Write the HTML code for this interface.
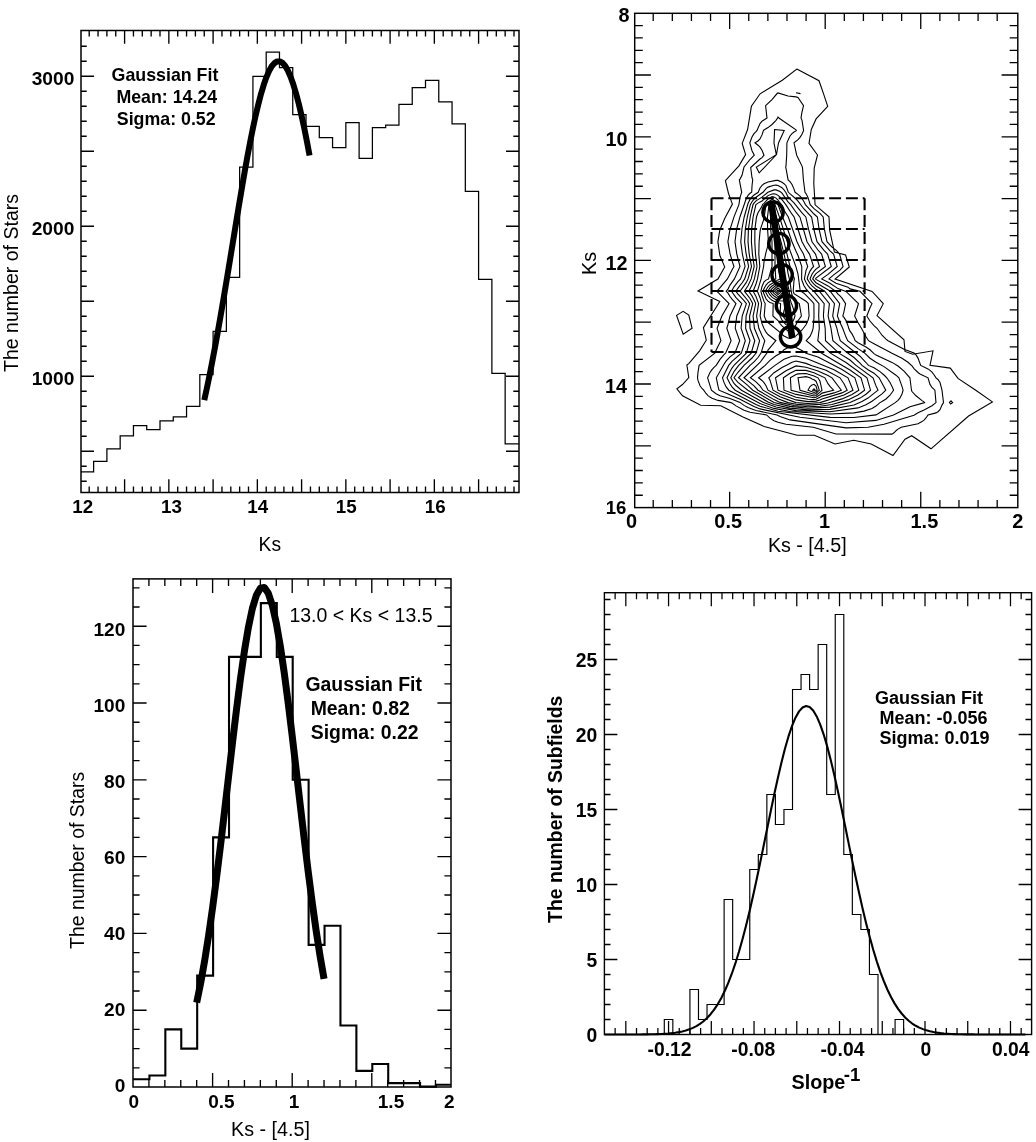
<!DOCTYPE html>
<html><head><meta charset="utf-8"><title>figure</title>
<style>html,body{margin:0;padding:0;background:#fff}svg{display:block;will-change:transform}text{font-family:"Liberation Sans",sans-serif;fill:#000}</style></head>
<body><svg width="1036" height="1142" viewBox="0 0 1036 1142"><rect width="1036" height="1142" fill="#fff"/><rect x="81" y="30.5" width="438" height="462" fill="none" stroke="#000" stroke-width="1.5"/><path d="M89.2 492.5L89.2 486.5M89.2 30.5L89.2 36.5M98.05 492.5L98.05 486.5M98.05 30.5L98.05 36.5M106.9 492.5L106.9 486.5M106.9 30.5L106.9 36.5M115.75 492.5L115.75 486.5M115.75 30.5L115.75 36.5M124.6 492.5L124.6 486.5M124.6 30.5L124.6 36.5M133.45 492.5L133.45 486.5M133.45 30.5L133.45 36.5M142.3 492.5L142.3 486.5M142.3 30.5L142.3 36.5M151.15 492.5L151.15 486.5M151.15 30.5L151.15 36.5M160 492.5L160 486.5M160 30.5L160 36.5M168.85 492.5L168.85 486.5M168.85 30.5L168.85 36.5M177.7 492.5L177.7 486.5M177.7 30.5L177.7 36.5M186.55 492.5L186.55 486.5M186.55 30.5L186.55 36.5M195.4 492.5L195.4 486.5M195.4 30.5L195.4 36.5M204.25 492.5L204.25 486.5M204.25 30.5L204.25 36.5M213.1 492.5L213.1 486.5M213.1 30.5L213.1 36.5M221.95 492.5L221.95 486.5M221.95 30.5L221.95 36.5M230.8 492.5L230.8 486.5M230.8 30.5L230.8 36.5M239.65 492.5L239.65 486.5M239.65 30.5L239.65 36.5M248.5 492.5L248.5 486.5M248.5 30.5L248.5 36.5M257.35 492.5L257.35 486.5M257.35 30.5L257.35 36.5M266.2 492.5L266.2 486.5M266.2 30.5L266.2 36.5M275.05 492.5L275.05 486.5M275.05 30.5L275.05 36.5M283.9 492.5L283.9 486.5M283.9 30.5L283.9 36.5M292.75 492.5L292.75 486.5M292.75 30.5L292.75 36.5M301.6 492.5L301.6 486.5M301.6 30.5L301.6 36.5M310.45 492.5L310.45 486.5M310.45 30.5L310.45 36.5M319.3 492.5L319.3 486.5M319.3 30.5L319.3 36.5M328.15 492.5L328.15 486.5M328.15 30.5L328.15 36.5M337 492.5L337 486.5M337 30.5L337 36.5M345.85 492.5L345.85 486.5M345.85 30.5L345.85 36.5M354.7 492.5L354.7 486.5M354.7 30.5L354.7 36.5M363.55 492.5L363.55 486.5M363.55 30.5L363.55 36.5M372.4 492.5L372.4 486.5M372.4 30.5L372.4 36.5M381.25 492.5L381.25 486.5M381.25 30.5L381.25 36.5M390.1 492.5L390.1 486.5M390.1 30.5L390.1 36.5M398.95 492.5L398.95 486.5M398.95 30.5L398.95 36.5M407.8 492.5L407.8 486.5M407.8 30.5L407.8 36.5M416.65 492.5L416.65 486.5M416.65 30.5L416.65 36.5M425.5 492.5L425.5 486.5M425.5 30.5L425.5 36.5M434.35 492.5L434.35 486.5M434.35 30.5L434.35 36.5M443.2 492.5L443.2 486.5M443.2 30.5L443.2 36.5M452.05 492.5L452.05 486.5M452.05 30.5L452.05 36.5M460.9 492.5L460.9 486.5M460.9 30.5L460.9 36.5M469.75 492.5L469.75 486.5M469.75 30.5L469.75 36.5M478.6 492.5L478.6 486.5M478.6 30.5L478.6 36.5M487.45 492.5L487.45 486.5M487.45 30.5L487.45 36.5M496.3 492.5L496.3 486.5M496.3 30.5L496.3 36.5M505.15 492.5L505.15 486.5M505.15 30.5L505.15 36.5M514 492.5L514 486.5M514 30.5L514 36.5M124.6 492.5L124.6 479.3M124.6 30.5L124.6 43.7M168.85 492.5L168.85 479.3M168.85 30.5L168.85 43.7M213.1 492.5L213.1 479.3M213.1 30.5L213.1 43.7M257.35 492.5L257.35 479.3M257.35 30.5L257.35 43.7M301.6 492.5L301.6 479.3M301.6 30.5L301.6 43.7M345.85 492.5L345.85 479.3M345.85 30.5L345.85 43.7M390.1 492.5L390.1 479.3M390.1 30.5L390.1 43.7M434.35 492.5L434.35 479.3M434.35 30.5L434.35 43.7M478.6 492.5L478.6 479.3M478.6 30.5L478.6 43.7M81 481.2L86.7 481.2M519 481.2L513.3 481.2M81 466.2L86.7 466.2M519 466.2L513.3 466.2M81 451.2L86.7 451.2M519 451.2L513.3 451.2M81 436.2L86.7 436.2M519 436.2L513.3 436.2M81 421.2L86.7 421.2M519 421.2L513.3 421.2M81 406.2L86.7 406.2M519 406.2L513.3 406.2M81 391.2L86.7 391.2M519 391.2L513.3 391.2M81 376.2L86.7 376.2M519 376.2L513.3 376.2M81 361.2L86.7 361.2M519 361.2L513.3 361.2M81 346.2L86.7 346.2M519 346.2L513.3 346.2M81 331.2L86.7 331.2M519 331.2L513.3 331.2M81 316.2L86.7 316.2M519 316.2L513.3 316.2M81 301.2L86.7 301.2M519 301.2L513.3 301.2M81 286.2L86.7 286.2M519 286.2L513.3 286.2M81 271.2L86.7 271.2M519 271.2L513.3 271.2M81 256.2L86.7 256.2M519 256.2L513.3 256.2M81 241.2L86.7 241.2M519 241.2L513.3 241.2M81 226.2L86.7 226.2M519 226.2L513.3 226.2M81 211.2L86.7 211.2M519 211.2L513.3 211.2M81 196.2L86.7 196.2M519 196.2L513.3 196.2M81 181.2L86.7 181.2M519 181.2L513.3 181.2M81 166.2L86.7 166.2M519 166.2L513.3 166.2M81 151.2L86.7 151.2M519 151.2L513.3 151.2M81 136.2L86.7 136.2M519 136.2L513.3 136.2M81 121.2L86.7 121.2M519 121.2L513.3 121.2M81 106.2L86.7 106.2M519 106.2L513.3 106.2M81 91.2L86.7 91.2M519 91.2L513.3 91.2M81 76.2L86.7 76.2M519 76.2L513.3 76.2M81 61.2L86.7 61.2M519 61.2L513.3 61.2M81 46.2L86.7 46.2M519 46.2L513.3 46.2M81 451.2L94 451.2M519 451.2L506 451.2M81 376.2L94 376.2M519 376.2L506 376.2M81 301.2L94 301.2M519 301.2L506 301.2M81 226.2L94 226.2M519 226.2L506 226.2M81 151.2L94 151.2M519 151.2L506 151.2M81 76.2L94 76.2M519 76.2L506 76.2" fill="none" stroke="#000" stroke-width="1.35"/><path d="M81 471.75L93.62 471.75L93.62 461.25L106.9 461.25L106.9 448.75L120.17 448.75L120.17 435.75L133.45 435.75L133.45 425.5L146.72 425.5L146.72 429.5L160 429.5L160 420.75L173.27 420.75L173.27 416.75L186.55 416.75L186.55 406.25L199.82 406.25L199.82 374.5L213.1 374.5L213.1 331.25L226.38 331.25L226.38 277.25L239.65 277.25L239.65 167L252.93 167L252.93 76.25L266.2 76.25L266.2 52L279.48 52L279.48 67.5L292.75 67.5L292.75 114.5L306.02 114.5L306.02 126.25L319.3 126.25L319.3 137.5L332.57 137.5L332.57 147.5L345.85 147.5L345.85 122.5L359.12 122.5L359.12 158.25L372.4 158.25L372.4 127.5L385.67 127.5L385.67 125L398.95 125L398.95 104.25L412.23 104.25L412.23 87.5L425.5 87.5L425.5 80.25L438.77 80.25L438.77 101.75L452.05 101.75L452.05 123.75L465.33 123.75L465.33 191.25L478.6 191.25L478.6 279.25L491.88 279.25L491.88 373.25L505.15 373.25L505.15 443.75L519 443.75" fill="none" stroke="#000" stroke-width="1.25" stroke-linejoin="miter"/><path d="M204.25 400.07L206.95 387.77L209.65 374.79L212.35 361.16L215.05 346.93L217.75 332.13L220.45 316.84L223.15 301.12L225.85 285.05L228.55 268.72L231.25 252.23L233.95 235.68L236.65 219.2L239.36 202.89L242.06 186.89L244.76 171.32L247.46 156.32L250.16 142L252.86 128.5L255.56 115.94L258.26 104.44L260.96 94.11L263.66 85.04L266.36 77.34L269.06 71.07L271.76 66.29L274.46 63.07L277.16 61.42L279.86 61.38L282.56 62.93L285.26 66.06L287.96 70.74L290.66 76.93L293.36 84.55L296.06 93.54L298.76 103.8L301.46 115.23L304.16 127.73L306.86 141.18L309.56 155.45" fill="none" stroke="#000" stroke-width="6" stroke-linejoin="round"/><text x="82.7" y="513" font-size="18.8" font-weight="bold" text-anchor="middle">12</text><text x="171.5" y="513" font-size="18.8" font-weight="bold" text-anchor="middle">13</text><text x="257.7" y="513" font-size="18.8" font-weight="bold" text-anchor="middle">14</text><text x="346.3" y="513" font-size="18.8" font-weight="bold" text-anchor="middle">15</text><text x="435.3" y="513" font-size="18.8" font-weight="bold" text-anchor="middle">16</text><text x="74.4" y="385" font-size="19.2" font-weight="bold" text-anchor="end">1000</text><text x="74.4" y="235" font-size="19.2" font-weight="bold" text-anchor="end">2000</text><text x="74.4" y="85" font-size="19.2" font-weight="bold" text-anchor="end">3000</text><text transform="translate(18.2 283) rotate(-90)" font-size="19.55" text-anchor="middle">The number of Stars</text><text x="258.6" y="551.1" font-size="19.3">Ks</text><text x="111.6" y="81.4" font-size="17.8" font-weight="bold">Gaussian Fit</text><text x="116.4" y="103.1" font-size="17.8" font-weight="bold">Mean: 14.24</text><text x="116.8" y="124.6" font-size="17.8" font-weight="bold">Sigma: 0.52</text><rect x="634.7" y="13.3" width="383.1" height="494.3" fill="none" stroke="#000" stroke-width="1.45"/><path d="M653.21 507.6L653.21 500M653.21 13.3L653.21 20.9M672.32 507.6L672.32 500M672.32 13.3L672.32 20.9M691.43 507.6L691.43 500M691.43 13.3L691.43 20.9M710.54 507.6L710.54 500M710.54 13.3L710.54 20.9M729.65 507.6L729.65 500M729.65 13.3L729.65 20.9M748.76 507.6L748.76 500M748.76 13.3L748.76 20.9M767.87 507.6L767.87 500M767.87 13.3L767.87 20.9M786.98 507.6L786.98 500M786.98 13.3L786.98 20.9M806.09 507.6L806.09 500M806.09 13.3L806.09 20.9M825.2 507.6L825.2 500M825.2 13.3L825.2 20.9M844.31 507.6L844.31 500M844.31 13.3L844.31 20.9M863.42 507.6L863.42 500M863.42 13.3L863.42 20.9M882.53 507.6L882.53 500M882.53 13.3L882.53 20.9M901.64 507.6L901.64 500M901.64 13.3L901.64 20.9M920.75 507.6L920.75 500M920.75 13.3L920.75 20.9M939.86 507.6L939.86 500M939.86 13.3L939.86 20.9M958.97 507.6L958.97 500M958.97 13.3L958.97 20.9M978.08 507.6L978.08 500M978.08 13.3L978.08 20.9M997.19 507.6L997.19 500M997.19 13.3L997.19 20.9M729.65 507.6L729.65 491.8M729.65 13.3L729.65 29.1M825.2 507.6L825.2 491.8M825.2 13.3L825.2 29.1M920.75 507.6L920.75 491.8M920.75 13.3L920.75 29.1M634.7 25.56L642.8 25.56M1017.8 25.56L1009.7 25.56M634.7 37.92L642.8 37.92M1017.8 37.92L1009.7 37.92M634.7 50.28L642.8 50.28M1017.8 50.28L1009.7 50.28M634.7 62.64L642.8 62.64M1017.8 62.64L1009.7 62.64M634.7 75L642.8 75M1017.8 75L1009.7 75M634.7 87.36L642.8 87.36M1017.8 87.36L1009.7 87.36M634.7 99.72L642.8 99.72M1017.8 99.72L1009.7 99.72M634.7 112.08L642.8 112.08M1017.8 112.08L1009.7 112.08M634.7 124.44L642.8 124.44M1017.8 124.44L1009.7 124.44M634.7 136.8L642.8 136.8M1017.8 136.8L1009.7 136.8M634.7 149.16L642.8 149.16M1017.8 149.16L1009.7 149.16M634.7 161.52L642.8 161.52M1017.8 161.52L1009.7 161.52M634.7 173.88L642.8 173.88M1017.8 173.88L1009.7 173.88M634.7 186.24L642.8 186.24M1017.8 186.24L1009.7 186.24M634.7 198.6L642.8 198.6M1017.8 198.6L1009.7 198.6M634.7 210.96L642.8 210.96M1017.8 210.96L1009.7 210.96M634.7 223.32L642.8 223.32M1017.8 223.32L1009.7 223.32M634.7 235.68L642.8 235.68M1017.8 235.68L1009.7 235.68M634.7 248.04L642.8 248.04M1017.8 248.04L1009.7 248.04M634.7 260.4L642.8 260.4M1017.8 260.4L1009.7 260.4M634.7 272.76L642.8 272.76M1017.8 272.76L1009.7 272.76M634.7 285.12L642.8 285.12M1017.8 285.12L1009.7 285.12M634.7 297.48L642.8 297.48M1017.8 297.48L1009.7 297.48M634.7 309.84L642.8 309.84M1017.8 309.84L1009.7 309.84M634.7 322.2L642.8 322.2M1017.8 322.2L1009.7 322.2M634.7 334.56L642.8 334.56M1017.8 334.56L1009.7 334.56M634.7 346.92L642.8 346.92M1017.8 346.92L1009.7 346.92M634.7 359.28L642.8 359.28M1017.8 359.28L1009.7 359.28M634.7 371.64L642.8 371.64M1017.8 371.64L1009.7 371.64M634.7 384L642.8 384M1017.8 384L1009.7 384M634.7 396.36L642.8 396.36M1017.8 396.36L1009.7 396.36M634.7 408.72L642.8 408.72M1017.8 408.72L1009.7 408.72M634.7 421.08L642.8 421.08M1017.8 421.08L1009.7 421.08M634.7 433.44L642.8 433.44M1017.8 433.44L1009.7 433.44M634.7 445.8L642.8 445.8M1017.8 445.8L1009.7 445.8M634.7 458.16L642.8 458.16M1017.8 458.16L1009.7 458.16M634.7 470.52L642.8 470.52M1017.8 470.52L1009.7 470.52M634.7 482.88L642.8 482.88M1017.8 482.88L1009.7 482.88M634.7 495.24L642.8 495.24M1017.8 495.24L1009.7 495.24M634.7 75L650.9 75M1017.8 75L1001.6 75M634.7 136.8L650.9 136.8M1017.8 136.8L1001.6 136.8M634.7 198.6L650.9 198.6M1017.8 198.6L1001.6 198.6M634.7 260.4L650.9 260.4M1017.8 260.4L1001.6 260.4M634.7 322.2L650.9 322.2M1017.8 322.2L1001.6 322.2M634.7 384L650.9 384M1017.8 384L1001.6 384M634.7 445.8L650.9 445.8M1017.8 445.8L1001.6 445.8" fill="none" stroke="#000" stroke-width="1.3"/><path d="M777.3 93.3L778.0 92.9L788.0 96.0L796.0 96.9L798.0 97.5L803.5 105.7L802.0 112.0L801.0 118.0L802.0 120.3L803.6 130.4L802.0 134.2L800.0 137.4L798.0 139.7L794.0 142.8L796.7 155.2L802.0 166.1L802.5 167.5L803.4 179.9L805.0 192.3L806.0 193.6L808.0 197.4L810.2 204.6L814.0 208.7L820.0 213.3L823.2 217.0L824.4 229.4L827.0 241.7L832.0 247.2L836.0 250.1L838.0 252.1L839.6 254.1L843.1 266.5L840.0 270.1L834.0 274.6L829.0 278.9L836.0 283.2L848.0 287.2L850.0 288.9L860.0 291.3L872.0 303.7L870.0 307.7L866.8 316.0L870.0 321.0L874.0 325.6L877.0 328.3L882.0 335.2L886.0 339.2L888.0 340.8L904.0 349.2L914.0 353.1L916.0 354.9L918.0 358.1L920.7 365.4L928.0 368.9L930.0 370.4L932.0 372.2L934.0 374.7L936.0 377.9L938.0 379.5L940.0 382.5L942.0 390.2L943.5 402.6L942.0 405.1L940.0 409.6L938.0 411.7L936.0 412.9L928.0 414.9L926.0 418.0L924.0 420.1L922.0 421.6L918.0 423.7L901.2 427.3L898.0 429.1L896.0 430.7L894.0 432.8L892.0 434.1L836.0 434.0L813.3 427.3L786.0 424.2L778.0 422.3L774.0 420.7L770.0 418.1L766.6 414.9L750.0 412.2L744.0 410.3L736.0 405.9L732.0 403.0L730.0 402.4L718.0 400.4L712.0 398.2L710.0 397.1L708.0 395.6L706.0 393.5L703.7 390.2L702.0 388.5L700.0 385.7L698.0 380.4L697.5 377.8L698.0 372.4L699.1 365.4L714.8 353.1L718.0 346.2L720.9 340.7L717.1 328.3L722.0 315.7L729.1 303.6L718.0 292.3L716.7 291.2L718.0 290.0L727.4 278.9L732.0 269.9L734.0 266.5L732.0 260.7L730.0 253.4L727.9 241.7L730.0 229.4L734.0 216.9L738.9 204.6L740.0 197.3L741.7 192.3L739.3 179.9L740.0 179.1L742.0 175.3L744.0 167.0L750.0 159.5L754.3 155.2L752.0 150.7L749.8 142.8L752.0 137.0L754.0 133.7L756.0 131.7L757.0 130.4L760.0 123.6L762.0 121.2L767.0 118.0L765.6 105.7L772.0 99.6ZM777.6 118.0L778.0 117.0L778.9 118.0L796.0 129.8L796.4 130.4L796.0 130.9L794.0 132.0L792.0 133.6L790.0 136.0L786.9 142.8L786.7 155.2L786.0 165.7L785.7 167.5L786.0 168.3L788.1 179.9L790.0 181.7L792.0 184.5L794.0 189.1L795.1 192.3L798.0 194.4L800.0 196.2L802.0 198.5L804.0 201.7L805.4 204.6L814.0 214.0L817.4 217.0L819.1 229.4L822.0 241.7L830.0 250.8L833.6 254.1L837.2 266.5L828.0 274.4L821.7 278.9L830.0 283.3L838.0 288.6L846.0 291.4L858.5 303.6L854.6 316.0L858.0 322.6L862.0 329.2L866.0 336.8L868.5 340.7L874.0 343.7L892.0 353.3L902.0 358.2L908.0 362.3L912.0 365.9L914.0 368.6L918.0 372.5L920.0 373.9L928.0 377.8L930.0 384.4L932.0 387.5L934.9 390.2L936.0 402.6L932.0 405.7L924.0 409.9L918.0 412.8L914.0 415.2L884.0 424.3L868.0 427.3L846.0 427.9L790.0 419.9L780.0 416.4L777.1 414.9L756.0 410.5L748.0 407.6L744.0 405.4L740.0 402.4L730.0 398.5L720.0 395.8L716.0 393.8L711.4 390.2L707.6 377.8L710.0 372.5L712.0 369.6L714.0 367.4L716.2 365.4L720.0 359.4L724.0 354.6L725.6 353.1L731.1 340.7L726.8 328.3L728.0 324.3L730.0 316.0L736.0 303.6L732.0 299.2L730.0 296.5L728.0 293.1L726.2 291.2L728.0 289.1L730.0 285.1L734.4 278.9L740.0 266.5L736.8 254.1L735.0 241.7L736.6 229.4L740.0 216.7L746.0 199.2L748.0 195.4L750.0 193.3L751.7 192.3L752.0 186.0L752.7 179.9L752.0 177.7L750.7 167.5L760.0 159.0L762.0 157.6L764.0 155.2L762.0 150.2L760.0 147.2L758.0 145.2L755.0 142.8L758.0 141.0L760.0 139.0L762.0 134.9L763.5 130.4L764.0 129.9L768.0 127.6L772.0 124.5L776.0 120.3ZM758.2 192.3L760.0 188.0L762.0 185.4L764.0 183.8L768.0 182.0L776.0 180.4L778.0 180.4L782.0 182.3L784.0 183.7L786.0 185.7L788.3 192.3L796.0 199.0L798.0 201.2L804.0 209.0L811.6 217.0L814.0 229.9L817.0 241.7L824.0 250.4L827.6 254.1L831.3 266.5L816.0 278.1L815.5 278.9L816.0 279.4L828.0 285.9L835.6 291.2L838.0 294.2L840.0 295.9L842.0 298.2L845.6 303.6L844.0 311.6L842.8 316.0L844.0 317.4L846.0 320.6L848.0 325.7L848.7 328.3L850.0 331.2L852.0 333.9L854.0 337.7L855.2 340.7L858.0 342.8L866.0 347.0L870.0 349.8L874.0 353.6L876.0 355.1L892.0 362.4L898.0 366.0L904.0 371.2L909.9 377.8L911.5 390.2L912.0 391.5L916.0 395.8L922.0 400.6L924.0 401.9L924.6 402.6L910.0 406.7L893.5 414.9L876.0 420.4L846.0 422.7L800.0 417.2L760.0 408.9L754.0 406.6L740.0 399.2L728.0 393.9L719.0 390.2L718.0 386.2L716.3 377.8L724.0 364.2L726.0 361.2L730.0 356.8L734.9 353.1L739.7 340.7L735.2 328.3L736.8 316.0L741.8 303.6L736.0 297.6L731.5 291.2L734.0 286.8L738.0 281.6L740.5 278.9L742.0 275.1L745.1 266.5L742.4 254.1L740.8 241.7L742.0 228.5L744.2 217.0L748.0 203.5L750.0 199.4L752.0 196.9L754.0 195.0ZM763.0 192.3L766.0 188.6L768.0 187.1L774.0 185.3L776.0 185.1L778.0 185.5L782.0 187.7L784.0 189.8L786.0 192.8L788.0 197.0L794.0 202.8L802.0 212.9L805.8 217.0L808.6 229.4L812.0 241.7L818.0 250.0L821.6 254.1L825.4 266.5L816.0 273.6L814.0 276.4L812.7 278.9L816.0 282.7L828.0 289.8L830.1 291.2L839.7 303.6L837.4 316.0L840.0 322.6L842.7 328.3L846.0 337.1L847.7 340.7L858.0 348.6L864.7 353.1L870.0 358.2L876.0 362.3L884.0 366.6L896.0 375.2L898.9 377.8L902.0 386.4L903.1 390.2L902.0 394.0L900.0 397.9L898.0 400.3L895.2 402.6L878.0 413.8L876.0 414.9L854.0 417.5L830.0 417.4L778.0 411.3L760.0 406.2L756.0 404.5L728.8 390.2L726.0 386.7L724.0 382.4L722.5 377.8L728.7 365.4L732.0 361.4L741.3 353.1L745.3 340.7L741.1 328.3L742.2 316.0L746.4 303.6L744.0 300.7L738.0 294.1L735.8 291.2L740.0 285.4L742.0 283.0L744.7 278.9L748.6 266.5L746.0 253.1L744.6 241.7L745.3 229.4L747.3 217.0L750.3 204.6L752.0 201.7L754.0 199.1L756.0 197.2ZM767.9 192.3L774.0 189.9L776.0 189.9L780.0 191.6L782.0 193.1L788.0 201.9L790.7 204.6L796.0 212.2L800.0 217.2L807.0 241.7L812.0 249.5L815.5 254.1L819.5 266.5L816.0 269.1L814.0 271.3L812.0 274.3L810.0 279.0L812.0 281.9L814.0 284.1L816.0 286.0L824.7 291.2L834.5 303.6L832.7 316.0L836.9 328.3L838.0 333.1L840.3 340.7L860.0 356.2L866.0 362.5L868.5 365.4L874.0 367.8L880.0 371.6L884.0 375.0L886.8 377.8L890.0 382.5L892.0 386.4L893.6 390.2L890.0 395.2L886.0 399.0L882.0 401.5L880.0 402.6L876.0 406.1L872.0 408.4L864.0 411.1L854.0 412.9L830.0 414.0L790.0 411.5L774.0 408.4L760.0 403.6L735.2 390.2L732.0 386.8L730.0 383.7L727.0 377.8L730.0 371.6L732.0 368.1L734.0 365.3L746.3 353.1L750.0 340.6L745.6 328.3L746.1 316.0L749.7 303.6L748.0 300.7L740.1 291.2L746.0 282.9L748.1 278.9L751.5 266.5L749.2 254.1L748.0 241.7L748.4 229.4L750.2 217.0L753.0 204.6L754.0 203.2L756.0 200.9L762.0 197.1ZM755.9 204.6L758.0 203.1L762.0 201.1L768.0 195.6L772.0 194.0L774.0 193.8L776.0 194.2L778.0 195.4L780.0 197.1L786.0 204.9L792.0 214.2L794.1 217.0L802.0 241.7L806.0 248.9L809.5 254.1L813.6 266.5L812.0 268.1L810.0 271.1L808.0 275.8L807.2 278.9L810.0 283.5L812.0 285.9L816.0 289.3L819.3 291.2L829.4 303.6L828.1 316.0L831.0 328.3L832.9 340.7L848.0 353.3L854.0 357.5L860.0 363.1L862.0 365.4L868.0 369.7L874.0 373.2L879.1 377.8L885.8 390.2L882.0 393.9L872.0 401.3L866.0 404.8L858.0 407.9L830.0 411.7L796.0 410.6L776.0 407.0L763.5 402.6L741.5 390.2L736.0 385.5L734.0 383.5L730.8 377.8L734.0 371.6L738.7 365.4L751.2 353.1L754.8 340.7L750.0 328.3L749.6 316.0L752.7 303.6L750.0 298.5L744.4 291.2L748.0 285.7L751.2 278.9L754.2 266.5L752.4 254.1L751.4 241.7L751.6 229.4L753.1 217.0ZM762.5 204.6L764.0 203.3L768.0 199.0L772.0 196.7L774.0 197.1L776.0 198.1L778.0 200.0L781.2 204.6L784.0 210.2L788.3 217.0L797.0 241.7L800.0 248.0L803.5 254.1L807.7 266.5L806.0 270.6L804.4 278.9L806.0 282.5L808.0 285.7L810.0 288.0L814.0 291.4L824.2 303.6L823.4 316.0L825.2 328.3L825.5 340.7L839.0 353.1L850.0 360.0L856.0 365.4L873.0 377.8L876.0 385.9L878.0 390.2L868.0 398.1L862.0 401.6L854.0 405.0L830.0 409.4L808.0 409.9L790.0 408.1L774.0 404.5L768.0 402.0L747.8 390.2L738.0 382.4L734.0 377.8L738.0 372.3L744.0 365.4L752.0 358.0L756.1 353.1L759.6 340.7L754.4 328.3L753.1 316.0L755.7 303.6L754.0 299.7L752.0 295.9L748.8 291.2L752.0 285.1L754.4 278.9L757.0 266.5L755.5 254.1L754.8 241.7L754.9 229.4L756.5 217.0L758.0 212.8L762.0 206.3ZM766.0 204.6L768.0 202.4L772.0 199.3L774.0 200.3L776.0 202.0L778.0 204.6L782.0 215.5L788.0 230.3L792.0 241.7L796.0 251.2L798.0 255.5L801.8 266.5L801.6 278.9L802.0 280.5L804.0 285.7L806.0 288.8L819.0 303.6L818.7 316.0L819.3 328.3L817.8 340.7L830.4 353.1L846.0 362.5L867.0 377.8L870.5 390.2L866.0 394.2L860.0 398.1L850.0 402.6L830.0 407.1L808.0 408.3L790.0 406.4L774.0 402.5L752.8 390.2L748.0 385.6L738.5 377.8L750.0 365.4L754.0 361.9L758.0 357.5L761.0 353.1L764.8 340.7L762.0 335.4L758.8 328.3L756.6 316.0L758.6 303.6L756.0 296.6L753.1 291.2L756.0 284.0L757.5 278.9L759.8 266.5L758.8 254.1L759.1 241.7L760.0 231.9L760.4 229.4L764.0 218.6ZM769.0 204.6L772.0 202.0L775.0 204.6L780.0 218.6L790.0 250.5L796.0 266.8L798.0 274.0L800.0 289.4L800.8 291.2L804.0 293.2L812.0 301.4L813.9 303.6L814.0 317.2L813.1 328.3L812.0 332.1L810.0 336.4L806.2 340.7L822.0 353.5L850.0 370.0L861.0 377.8L864.6 390.2L858.0 395.0L848.0 399.9L832.0 404.5L820.0 406.2L808.0 406.7L794.0 405.5L780.0 402.4L774.0 399.6L758.0 390.2L754.0 385.9L744.0 377.8L760.0 362.5L766.9 353.1L768.0 350.1L775.9 340.7L768.0 334.5L766.0 332.1L763.9 328.3L762.0 323.7L760.1 316.0L761.6 303.6L760.0 297.7L757.4 291.2L761.1 278.9L763.6 266.5L764.0 261.8L766.0 252.3L768.0 245.1L768.4 241.7L767.6 229.4L767.5 217.0ZM770.5 217.0L772.0 204.6L776.5 217.0L784.0 241.7L790.0 266.5L794.4 278.9L794.0 280.7L793.2 291.2L794.0 293.7L806.0 301.2L808.3 303.6L809.1 316.0L808.0 320.4L806.0 324.8L802.0 330.0L796.0 335.9L792.0 338.1L790.0 338.5L788.0 338.0L784.0 336.0L782.0 334.5L780.0 332.4L768.0 322.5L766.0 320.5L764.2 316.0L765.2 303.6L764.0 301.4L762.0 295.7L760.9 291.2L762.0 286.5L764.0 281.9L766.0 280.1L768.5 278.9L772.0 266.5L772.0 241.7L770.7 229.4ZM780.9 353.1L784.0 349.7L790.0 346.3L792.0 345.9L794.0 346.4L802.0 350.4L806.0 353.2L818.0 357.1L842.0 369.6L854.9 377.8L858.8 390.2L852.0 394.5L842.0 398.9L828.0 403.0L820.0 404.4L808.0 405.1L796.0 404.2L788.0 402.6L778.0 398.7L763.0 390.2L760.0 385.9L756.0 381.9L750.4 377.8L765.1 365.4L770.0 360.3L776.0 355.8ZM773.7 229.4L774.0 224.7L776.0 225.1L781.0 241.7L787.0 266.5L788.0 273.2L790.0 281.5L791.2 291.2L792.0 295.0L794.0 300.0L799.3 303.6L801.4 316.0L798.0 320.8L794.0 328.3L792.0 330.4L790.0 331.9L788.0 331.1L782.0 325.9L780.0 323.5L778.0 320.5L772.9 316.0L773.2 303.6L770.0 302.4L768.0 301.1L766.0 298.8L764.0 294.0L763.1 291.2L764.0 288.7L766.0 285.0L768.0 282.9L770.0 281.5L775.8 278.9L775.0 266.5L775.0 241.7ZM775.0 365.4L784.0 359.2L792.0 356.3L796.0 356.0L806.0 358.3L834.0 369.7L848.0 377.8L853.0 390.2L844.0 395.0L820.0 402.6L808.0 403.5L795.8 402.6L780.0 396.7L768.0 390.2L766.0 385.7L764.0 382.7L762.0 380.5L758.6 377.8ZM778.0 254.1L780.0 250.0L784.0 266.5L784.8 278.9L786.0 280.7L788.0 285.6L789.2 291.2L790.0 299.0L791.4 303.6L792.0 304.7L794.0 310.6L795.0 316.0L794.0 319.1L792.0 323.1L790.0 325.6L788.0 325.8L786.0 324.6L784.0 322.7L782.0 320.0L780.0 316.0L780.6 303.6L774.0 301.2L772.0 300.2L770.0 298.7L768.0 296.5L766.0 292.8L765.4 291.2L768.0 286.8L770.0 284.7L778.0 279.9L780.2 278.9L778.0 266.5ZM786.0 365.4L792.0 362.2L796.0 361.0L806.0 363.4L812.0 365.7L826.0 370.3L840.0 377.8L844.0 383.7L847.2 390.2L842.0 392.9L822.0 399.0L820.0 400.0L816.0 401.1L808.0 401.6L796.0 399.9L780.0 393.9L773.0 390.2L770.0 380.2L768.8 377.8L774.0 372.7L782.0 367.5ZM767.7 291.2L770.0 287.9L772.0 286.0L778.0 281.9L782.0 281.2L784.0 283.1L786.0 287.3L787.2 291.2L786.0 301.8L784.0 301.0L778.0 300.7L774.0 298.6L772.0 297.1L770.0 295.0ZM783.0 316.0L784.0 310.6L786.0 304.7L788.0 306.6L790.0 310.2L792.0 316.0L790.0 319.8L788.0 321.6L786.0 320.3ZM775.5 377.8L786.0 370.7L796.0 365.9L806.0 367.3L818.0 370.9L828.0 375.5L832.0 377.8L841.3 390.2L834.0 392.9L822.0 396.1L820.0 397.3L816.0 399.2L814.0 399.5L808.0 399.3L796.0 397.2L780.0 391.1L778.0 390.2ZM769.9 291.2L772.0 288.7L776.0 285.3L778.0 283.9L780.0 284.3L782.0 285.1L784.0 288.2L785.2 291.2L784.0 294.9L782.0 297.1L780.0 298.1L778.0 298.6L774.0 296.0L772.0 294.1ZM786.0 316.0L788.0 313.6L789.0 316.0L788.0 317.4ZM783.4 377.8L790.0 373.3L796.0 370.2L806.0 370.4L814.0 372.7L824.9 377.8L828.0 383.7L830.0 386.4L833.6 390.2L822.0 393.1L820.0 394.7L816.0 397.3L814.0 397.8L796.0 394.4L784.0 390.2ZM772.1 291.2L776.0 287.5L778.0 286.0L780.0 287.0L782.0 288.9L783.2 291.2L782.0 293.4L780.0 295.4L778.0 296.6L774.0 293.4ZM790.4 377.8L796.0 374.6L798.0 373.9L806.0 373.5L814.0 375.9L818.0 377.8L820.0 381.3L822.0 390.2L820.0 392.1L816.0 395.5L814.0 396.0L791.1 390.2ZM774.4 291.2L778.0 288.0L780.0 289.6L781.2 291.2L780.0 292.8L778.0 294.5ZM798.0 377.8L806.0 376.6L810.0 377.8L812.0 379.0L814.0 379.7L816.0 381.2L818.0 386.1L819.3 390.2L818.0 391.3L816.0 393.6L814.0 394.2L800.0 390.2ZM776.7 291.2L778.0 290.0L779.2 291.2L778.0 292.5ZM808.0 390.2L810.0 386.5L812.0 385.0L814.0 384.3L816.0 386.1L817.2 390.2L816.0 391.7L814.0 392.5ZM812.7 390.2L814.0 388.9L815.3 390.2L814.0 390.7ZM796.8 69.1L819.0 80.7L823.4 93.4L827.7 106.3L816.1 118.9L811.3 129.5L809.0 143.4L817.5 155.0L814.2 168.1L813.8 183.6L815.1 204.8L829.0 216.8L829.6 229.9L834.4 252.1L845.6 255.0L849.3 267.0L835.1 279.0L872.1 291.5L883.3 303.7L877.0 315.6L904.0 339.8L905.0 351.4L912.7 354.2L933.0 350.8L930.0 365.4L950.3 368.1L958.0 378.4L975.4 390.0L992.4 401.9L968.6 416.0L931.0 448.8L911.7 435.7L905.0 439.2L893.0 455.6L871.2 444.0L853.8 440.2L835.0 444.0L814.4 435.2L797.1 435.2L764.2 426.5L743.0 416.9L720.8 405.8L700.7 405.2L682.5 395.8L676.9 388.9L682.5 384.5L688.8 377.6L686.9 365.0L689.0 363.4L699.6 350.8L706.3 340.2L703.4 327.7L719.8 301.6L698.0 291.0L717.9 279.0L724.7 266.9L719.8 255.3L717.9 241.8L719.8 230.2L724.7 218.6L732.4 204.1L728.5 193.5L725.4 180.7L738.9 165.8L745.6 154.6L742.2 143.4L747.6 129.5L751.4 106.3L760.1 93.8L782.3 80.3ZM676.6 315.4L683.1 311.4L688.8 315L692.1 328.3L683.2 334.1ZM796 92.8L800.5 93.6M774.6 129.5L784.2 130.5L778.5 143L776.5 154.6L759.2 172.9L756.3 167.1L776.3 154.6L774 143ZM949.4 402.4L951 400.8L952.6 402.6L950.6 404Z" fill="none" stroke="#000" stroke-width="1.1" stroke-linejoin="miter"/><path d="M711.5 198.3L864.6 198.3M711.5 229L864.6 229M711.5 260L864.6 260M711.5 291L864.6 291M711.5 321.9L864.6 321.9M711.5 352L864.6 352M711.5 198.3L711.5 352M864.6 198.3L864.6 352" fill="none" stroke="#000" stroke-width="2.1" stroke-dasharray="12 4.8"/><circle cx="773" cy="212.2" r="10.2" fill="none" stroke="#000" stroke-width="3.4"/><circle cx="778.9" cy="243.6" r="10.2" fill="none" stroke="#000" stroke-width="3.4"/><circle cx="782.1" cy="275" r="10.2" fill="none" stroke="#000" stroke-width="3.4"/><circle cx="786.4" cy="305.6" r="10.2" fill="none" stroke="#000" stroke-width="3.4"/><circle cx="790.6" cy="336.8" r="10.2" fill="none" stroke="#000" stroke-width="3.4"/><path d="M771.2 202.4L792.2 338" fill="none" stroke="#000" stroke-width="6.7"/><text x="631.5" y="527.9" font-size="19.9" font-weight="bold" text-anchor="middle">0</text><text x="728.2" y="527.9" font-size="19.9" font-weight="bold" text-anchor="middle">0.5</text><text x="824.6" y="527.9" font-size="19.9" font-weight="bold" text-anchor="middle">1</text><text x="924.4" y="527.9" font-size="19.9" font-weight="bold" text-anchor="middle">1.5</text><text x="1017.9" y="527.9" font-size="19.9" font-weight="bold" text-anchor="middle">2</text><text x="629.6" y="22.2" font-size="19.8" font-weight="bold" text-anchor="end">8</text><text x="627.4" y="145.7" font-size="19.8" font-weight="bold" text-anchor="end">10</text><text x="627.6" y="269.8" font-size="19.8" font-weight="bold" text-anchor="end">12</text><text x="627" y="393" font-size="19.8" font-weight="bold" text-anchor="end">14</text><text x="626.4" y="514" font-size="18.6" font-weight="bold" text-anchor="end">16</text><text transform="translate(595.7 263.5) rotate(-90)" font-size="19.8" text-anchor="middle">Ks</text><text x="767.9" y="552" font-size="19.7">Ks - [4.5]</text><rect x="133" y="578.9" width="318" height="508.1" fill="none" stroke="#000" stroke-width="1.5"/><path d="M148.92 1087L148.92 1080M148.92 578.9L148.92 585.9M164.84 1087L164.84 1080M164.84 578.9L164.84 585.9M180.76 1087L180.76 1080M180.76 578.9L180.76 585.9M196.68 1087L196.68 1080M196.68 578.9L196.68 585.9M212.6 1087L212.6 1080M212.6 578.9L212.6 585.9M228.52 1087L228.52 1080M228.52 578.9L228.52 585.9M244.44 1087L244.44 1080M244.44 578.9L244.44 585.9M260.36 1087L260.36 1080M260.36 578.9L260.36 585.9M276.28 1087L276.28 1080M276.28 578.9L276.28 585.9M292.2 1087L292.2 1080M292.2 578.9L292.2 585.9M308.12 1087L308.12 1080M308.12 578.9L308.12 585.9M324.04 1087L324.04 1080M324.04 578.9L324.04 585.9M339.96 1087L339.96 1080M339.96 578.9L339.96 585.9M355.88 1087L355.88 1080M355.88 578.9L355.88 585.9M371.8 1087L371.8 1080M371.8 578.9L371.8 585.9M387.72 1087L387.72 1080M387.72 578.9L387.72 585.9M403.64 1087L403.64 1080M403.64 578.9L403.64 585.9M419.56 1087L419.56 1080M419.56 578.9L419.56 585.9M435.48 1087L435.48 1080M435.48 578.9L435.48 585.9M212.6 1087L212.6 1073M212.6 578.9L212.6 592.9M292.2 1087L292.2 1073M292.2 578.9L292.2 592.9M371.8 1087L371.8 1073M371.8 578.9L371.8 592.9M133 1067.8L139.6 1067.8M451 1067.8L444.4 1067.8M133 1048.6L139.6 1048.6M451 1048.6L444.4 1048.6M133 1029.4L139.6 1029.4M451 1029.4L444.4 1029.4M133 1010.2L139.6 1010.2M451 1010.2L444.4 1010.2M133 991L139.6 991M451 991L444.4 991M133 971.8L139.6 971.8M451 971.8L444.4 971.8M133 952.6L139.6 952.6M451 952.6L444.4 952.6M133 933.4L139.6 933.4M451 933.4L444.4 933.4M133 914.2L139.6 914.2M451 914.2L444.4 914.2M133 895L139.6 895M451 895L444.4 895M133 875.8L139.6 875.8M451 875.8L444.4 875.8M133 856.6L139.6 856.6M451 856.6L444.4 856.6M133 837.4L139.6 837.4M451 837.4L444.4 837.4M133 818.2L139.6 818.2M451 818.2L444.4 818.2M133 799L139.6 799M451 799L444.4 799M133 779.8L139.6 779.8M451 779.8L444.4 779.8M133 760.6L139.6 760.6M451 760.6L444.4 760.6M133 741.4L139.6 741.4M451 741.4L444.4 741.4M133 722.2L139.6 722.2M451 722.2L444.4 722.2M133 703L139.6 703M451 703L444.4 703M133 683.8L139.6 683.8M451 683.8L444.4 683.8M133 664.6L139.6 664.6M451 664.6L444.4 664.6M133 645.4L139.6 645.4M451 645.4L444.4 645.4M133 626.2L139.6 626.2M451 626.2L444.4 626.2M133 607L139.6 607M451 607L444.4 607M133 587.8L139.6 587.8M451 587.8L444.4 587.8M133 1010.2L146.6 1010.2M451 1010.2L437.4 1010.2M133 933.4L146.6 933.4M451 933.4L437.4 933.4M133 856.6L146.6 856.6M451 856.6L437.4 856.6M133 779.8L146.6 779.8M451 779.8L437.4 779.8M133 703L146.6 703M451 703L437.4 703M133 626.2L146.6 626.2M451 626.2L437.4 626.2" fill="none" stroke="#000" stroke-width="1.35"/><path d="M133 1079.32L149.42 1079.32L149.42 1075.48L165.34 1075.48L165.34 1029.4L181.26 1029.4L181.26 1048.6L197.18 1048.6L197.18 975.64L213.1 975.64L213.1 837.4L229.02 837.4L229.02 656.92L244.94 656.92L244.94 656.92L260.86 656.92L260.86 603.16L276.78 603.16L276.78 656.92L292.7 656.92L292.7 779.8L308.62 779.8L308.62 944.92L324.54 944.92L324.54 925.72L340.46 925.72L340.46 1025.56L356.38 1025.56L356.38 1070.87L372.3 1070.87L372.3 1063.96L388.22 1063.96L388.22 1083.16L404.14 1083.16L404.14 1083.16L420.06 1083.16L420.06 1086.62L435.98 1086.62L435.98 1084.7L451 1084.7" fill="none" stroke="#000" stroke-width="2.1" stroke-linejoin="miter"/><path d="M196.68 1002.62L200.66 983.12L204.64 960.75L208.62 935.54L212.6 907.62L216.58 877.29L220.56 844.97L224.54 811.25L228.52 776.86L232.5 742.67L236.48 709.6L240.46 678.67L244.44 650.88L248.42 627.17L252.4 608.38L256.38 595.23L260.36 588.19L264.34 587.55L268.32 593.32L272.3 605.28L276.28 622.99L280.26 645.78L284.24 672.83L288.22 703.22L292.2 735.93L296.18 769.98L300.16 804.4L304.14 838.31L308.12 870.96L312.1 901.74L316.08 930.16L320.06 955.93L324.04 978.87" fill="none" stroke="#000" stroke-width="7" stroke-linejoin="round"/><text x="133.9" y="1108" font-size="19" font-weight="bold" text-anchor="middle">0</text><text x="221.4" y="1108" font-size="19" font-weight="bold" text-anchor="middle">0.5</text><text x="294" y="1108" font-size="19" font-weight="bold" text-anchor="middle">1</text><text x="391" y="1108" font-size="19" font-weight="bold" text-anchor="middle">1.5</text><text x="449.2" y="1108" font-size="19" font-weight="bold" text-anchor="middle">2</text><text x="125.3" y="1092.3" font-size="19.1" font-weight="bold" text-anchor="end">0</text><text x="125.3" y="1016.3" font-size="19.1" font-weight="bold" text-anchor="end">20</text><text x="125.3" y="940.3" font-size="19.1" font-weight="bold" text-anchor="end">40</text><text x="125.3" y="864.3" font-size="19.1" font-weight="bold" text-anchor="end">60</text><text x="125.3" y="788.3" font-size="19.1" font-weight="bold" text-anchor="end">80</text><text x="125.3" y="712.3" font-size="19.1" font-weight="bold" text-anchor="end">100</text><text x="125.3" y="636.3" font-size="19.1" font-weight="bold" text-anchor="end">120</text><text transform="translate(83.9 860.4) rotate(-90)" font-size="19.45" text-anchor="middle">The number of Stars</text><text x="231.1" y="1136" font-size="19.7">Ks - [4.5]</text><text x="289.4" y="621.8" font-size="19.5">13.0 &lt; Ks &lt; 13.5</text><text x="305.5" y="691.3" font-size="19.4" font-weight="bold">Gaussian Fit</text><text x="310.7" y="715.1" font-size="19.4" font-weight="bold">Mean: 0.82</text><text x="310.8" y="738.9" font-size="19.4" font-weight="bold">Sigma: 0.22</text><rect x="604.4" y="592.7" width="427.2" height="441.8" fill="none" stroke="#000" stroke-width="1.4"/><path d="M615.13 1034.5L615.13 1027.9M615.13 592.7L615.13 599.3M625.82 1034.5L625.82 1027.9M625.82 592.7L625.82 599.3M636.51 1034.5L636.51 1027.9M636.51 592.7L636.51 599.3M647.19 1034.5L647.19 1027.9M647.19 592.7L647.19 599.3M657.88 1034.5L657.88 1027.9M657.88 592.7L657.88 599.3M668.56 1034.5L668.56 1027.9M668.56 592.7L668.56 599.3M679.25 1034.5L679.25 1027.9M679.25 592.7L679.25 599.3M689.93 1034.5L689.93 1027.9M689.93 592.7L689.93 599.3M700.62 1034.5L700.62 1027.9M700.62 592.7L700.62 599.3M711.3 1034.5L711.3 1027.9M711.3 592.7L711.3 599.3M721.99 1034.5L721.99 1027.9M721.99 592.7L721.99 599.3M732.67 1034.5L732.67 1027.9M732.67 592.7L732.67 599.3M743.36 1034.5L743.36 1027.9M743.36 592.7L743.36 599.3M754.04 1034.5L754.04 1027.9M754.04 592.7L754.04 599.3M764.73 1034.5L764.73 1027.9M764.73 592.7L764.73 599.3M775.41 1034.5L775.41 1027.9M775.41 592.7L775.41 599.3M786.1 1034.5L786.1 1027.9M786.1 592.7L786.1 599.3M796.78 1034.5L796.78 1027.9M796.78 592.7L796.78 599.3M807.47 1034.5L807.47 1027.9M807.47 592.7L807.47 599.3M818.15 1034.5L818.15 1027.9M818.15 592.7L818.15 599.3M828.84 1034.5L828.84 1027.9M828.84 592.7L828.84 599.3M839.52 1034.5L839.52 1027.9M839.52 592.7L839.52 599.3M850.21 1034.5L850.21 1027.9M850.21 592.7L850.21 599.3M860.89 1034.5L860.89 1027.9M860.89 592.7L860.89 599.3M871.58 1034.5L871.58 1027.9M871.58 592.7L871.58 599.3M882.26 1034.5L882.26 1027.9M882.26 592.7L882.26 599.3M892.95 1034.5L892.95 1027.9M892.95 592.7L892.95 599.3M903.63 1034.5L903.63 1027.9M903.63 592.7L903.63 599.3M914.32 1034.5L914.32 1027.9M914.32 592.7L914.32 599.3M925 1034.5L925 1027.9M925 592.7L925 599.3M935.69 1034.5L935.69 1027.9M935.69 592.7L935.69 599.3M946.37 1034.5L946.37 1027.9M946.37 592.7L946.37 599.3M957.06 1034.5L957.06 1027.9M957.06 592.7L957.06 599.3M967.74 1034.5L967.74 1027.9M967.74 592.7L967.74 599.3M978.43 1034.5L978.43 1027.9M978.43 592.7L978.43 599.3M989.11 1034.5L989.11 1027.9M989.11 592.7L989.11 599.3M999.79 1034.5L999.79 1027.9M999.79 592.7L999.79 599.3M1010.48 1034.5L1010.48 1027.9M1010.48 592.7L1010.48 599.3M1021.16 1034.5L1021.16 1027.9M1021.16 592.7L1021.16 599.3M625.82 1034.5L625.82 1020.9M625.82 592.7L625.82 606.3M668.56 1034.5L668.56 1020.9M668.56 592.7L668.56 606.3M711.3 1034.5L711.3 1020.9M711.3 592.7L711.3 606.3M754.04 1034.5L754.04 1020.9M754.04 592.7L754.04 606.3M796.78 1034.5L796.78 1020.9M796.78 592.7L796.78 606.3M839.52 1034.5L839.52 1020.9M839.52 592.7L839.52 606.3M882.26 1034.5L882.26 1020.9M882.26 592.7L882.26 606.3M925 1034.5L925 1020.9M925 592.7L925 606.3M967.74 1034.5L967.74 1020.9M967.74 592.7L967.74 606.3M1010.48 1034.5L1010.48 1020.9M1010.48 592.7L1010.48 606.3M604.4 1019.5L610.5 1019.5M1031.6 1019.5L1025.5 1019.5M604.4 1004.5L610.5 1004.5M1031.6 1004.5L1025.5 1004.5M604.4 989.5L610.5 989.5M1031.6 989.5L1025.5 989.5M604.4 974.5L610.5 974.5M1031.6 974.5L1025.5 974.5M604.4 959.5L610.5 959.5M1031.6 959.5L1025.5 959.5M604.4 944.5L610.5 944.5M1031.6 944.5L1025.5 944.5M604.4 929.5L610.5 929.5M1031.6 929.5L1025.5 929.5M604.4 914.5L610.5 914.5M1031.6 914.5L1025.5 914.5M604.4 899.5L610.5 899.5M1031.6 899.5L1025.5 899.5M604.4 884.5L610.5 884.5M1031.6 884.5L1025.5 884.5M604.4 869.5L610.5 869.5M1031.6 869.5L1025.5 869.5M604.4 854.5L610.5 854.5M1031.6 854.5L1025.5 854.5M604.4 839.5L610.5 839.5M1031.6 839.5L1025.5 839.5M604.4 824.5L610.5 824.5M1031.6 824.5L1025.5 824.5M604.4 809.5L610.5 809.5M1031.6 809.5L1025.5 809.5M604.4 794.5L610.5 794.5M1031.6 794.5L1025.5 794.5M604.4 779.5L610.5 779.5M1031.6 779.5L1025.5 779.5M604.4 764.5L610.5 764.5M1031.6 764.5L1025.5 764.5M604.4 749.5L610.5 749.5M1031.6 749.5L1025.5 749.5M604.4 734.5L610.5 734.5M1031.6 734.5L1025.5 734.5M604.4 719.5L610.5 719.5M1031.6 719.5L1025.5 719.5M604.4 704.5L610.5 704.5M1031.6 704.5L1025.5 704.5M604.4 689.5L610.5 689.5M1031.6 689.5L1025.5 689.5M604.4 674.5L610.5 674.5M1031.6 674.5L1025.5 674.5M604.4 659.5L610.5 659.5M1031.6 659.5L1025.5 659.5M604.4 644.5L610.5 644.5M1031.6 644.5L1025.5 644.5M604.4 629.5L610.5 629.5M1031.6 629.5L1025.5 629.5M604.4 614.5L610.5 614.5M1031.6 614.5L1025.5 614.5M604.4 599.5L610.5 599.5M1031.6 599.5L1025.5 599.5M604.4 959.5L617.4 959.5M1031.6 959.5L1018.6 959.5M604.4 884.5L617.4 884.5M1031.6 884.5L1018.6 884.5M604.4 809.5L617.4 809.5M1031.6 809.5L1018.6 809.5M604.4 734.5L617.4 734.5M1031.6 734.5L1018.6 734.5M604.4 659.5L617.4 659.5M1031.6 659.5L1018.6 659.5" fill="none" stroke="#000" stroke-width="1.26"/><path d="M604.45 1034.5L613 1034.5L613 1034.5L621.55 1034.5L621.55 1034.5L630.09 1034.5L630.09 1034.5L638.64 1034.5L638.64 1034.5L647.19 1034.5L647.19 1034.5L655.74 1034.5L655.74 1034.5L664.29 1034.5L664.29 1019.5L672.83 1019.5L672.83 1034.5L681.38 1034.5L681.38 1034.5L689.93 1034.5L689.93 989.5L698.48 989.5L698.48 1019.5L707.03 1019.5L707.03 1004.5L715.57 1004.5L715.57 1004.5L724.12 1004.5L724.12 899.5L732.67 899.5L732.67 959.5L741.22 959.5L741.22 959.5L749.77 959.5L749.77 869.5L758.31 869.5L758.31 854.5L766.86 854.5L766.86 794.5L775.41 794.5L775.41 824.5L783.96 824.5L783.96 809.5L792.51 809.5L792.51 689.5L801.05 689.5L801.05 674.5L809.6 674.5L809.6 689.5L818.15 689.5L818.15 644.5L826.7 644.5L826.7 794.5L835.25 794.5L835.25 614.5L843.79 614.5L843.79 854.5L852.34 854.5L852.34 914.5L860.89 914.5L860.89 929.5L869.44 929.5L869.44 974.5L877.99 974.5L877.99 1034.5L886.53 1034.5L886.53 1034.5L895.08 1034.5L895.08 1019.5L903.63 1019.5L903.63 1034.5L912.18 1034.5L912.18 1034.5L920.73 1034.5L920.73 1034.5L929.27 1034.5L929.27 1034.5L937.82 1034.5L937.82 1034.5L946.37 1034.5L946.37 1034.5L954.92 1034.5L954.92 1034.5L963.47 1034.5L963.47 1034.5L972.01 1034.5L972.01 1034.5L980.56 1034.5L980.56 1034.5L989.11 1034.5L989.11 1034.5L997.66 1034.5L997.66 1034.5L1006.21 1034.5L1006.21 1034.5L1014.75 1034.5L1014.75 1034.5L1023.3 1034.5L1023.3 1034.5L1031.85 1034.5" fill="none" stroke="#000" stroke-width="1.15" stroke-linejoin="miter"/><path d="M604.45 1034.5L607.99 1034.5L611.53 1034.5L615.06 1034.5L618.6 1034.49L622.14 1034.49L625.68 1034.48L629.21 1034.48L632.75 1034.46L636.29 1034.45L639.83 1034.43L643.36 1034.4L646.9 1034.35L650.44 1034.29L653.98 1034.21L657.52 1034.1L661.05 1033.96L664.59 1033.76L668.13 1033.5L671.67 1033.16L675.2 1032.72L678.74 1032.15L682.28 1031.43L685.82 1030.51L689.36 1029.35L692.89 1027.9L696.43 1026.11L699.97 1023.92L703.51 1021.25L707.04 1018.04L710.58 1014.21L714.12 1009.67L717.66 1004.35L721.19 998.16L724.73 991.04L728.27 982.91L731.81 973.72L735.35 963.44L738.88 952.05L742.42 939.56L745.96 926L749.5 911.45L753.03 895.99L756.57 879.78L760.11 862.97L763.65 845.78L767.19 828.43L770.72 811.19L774.26 794.33L777.8 778.16L781.34 762.97L784.87 749.06L788.41 736.7L791.95 726.15L795.49 717.65L799.02 711.37L802.56 707.46L806.1 706.01L809.64 707.05L813.18 710.55L816.71 716.44L820.25 724.58L823.79 734.8L827.33 746.87L830.86 760.54L834.4 775.54L837.94 791.57L841.48 808.33L845.02 825.52L848.55 842.87L852.09 860.11L855.63 877L859.17 893.33L862.7 908.92L866.24 923.63L869.78 937.36L873.32 950.04L876.85 961.61L880.39 972.08L883.93 981.44L887.47 989.75L891.01 997.04L894.54 1003.37L898.08 1008.84L901.62 1013.5L905.16 1017.45L908.69 1020.75L912.23 1023.51L915.77 1025.77L919.31 1027.62L922.85 1029.12L926.38 1030.33L929.92 1031.29L933.46 1032.05L937 1032.64L940.53 1033.1L944.07 1033.45L947.61 1033.72L951.15 1033.93L954.68 1034.08L958.22 1034.2L961.76 1034.28L965.3 1034.34L968.84 1034.39L972.37 1034.42L975.91 1034.45L979.45 1034.46L982.99 1034.47L986.52 1034.48L990.06 1034.49L993.6 1034.49L997.14 1034.49L1000.67 1034.5L1004.21 1034.5L1007.75 1034.5L1011.29 1034.5L1014.83 1034.5L1018.36 1034.5L1021.9 1034.5L1025.44 1034.5" fill="none" stroke="#000" stroke-width="2.1" stroke-linejoin="round"/><text x="669.6" y="1056.1" font-size="19.3" font-weight="bold" text-anchor="middle">-0.12</text><text x="753.25" y="1056.1" font-size="19.3" font-weight="bold" text-anchor="middle">-0.08</text><text x="842.4" y="1056.1" font-size="19.3" font-weight="bold" text-anchor="middle">-0.04</text><text x="925.75" y="1056.1" font-size="19.3" font-weight="bold" text-anchor="middle">0</text><text x="1010.75" y="1056.1" font-size="19.3" font-weight="bold" text-anchor="middle">0.04</text><text x="597.2" y="1041.7" font-size="19.3" font-weight="bold" text-anchor="end">0</text><text x="597.2" y="966.7" font-size="19.3" font-weight="bold" text-anchor="end">5</text><text x="597.2" y="891.7" font-size="19.3" font-weight="bold" text-anchor="end">10</text><text x="597.2" y="816.7" font-size="19.3" font-weight="bold" text-anchor="end">15</text><text x="597.2" y="741.7" font-size="19.3" font-weight="bold" text-anchor="end">20</text><text x="597.2" y="666.7" font-size="19.3" font-weight="bold" text-anchor="end">25</text><text transform="translate(562.2 809.3) rotate(-90)" font-size="19.4" font-weight="bold" text-anchor="middle">The number of Subfields</text><text x="791.5" y="1089.1" font-size="19.8" font-weight="bold">Slope<tspan dx="-1.6" dy="-8.2" font-size="18.6">-1</tspan></text><text x="874.9" y="703.75" font-size="18" font-weight="bold">Gaussian Fit</text><text x="879.4" y="723.75" font-size="18" font-weight="bold">Mean: -0.056</text><text x="879.4" y="743.75" font-size="18" font-weight="bold">Sigma: 0.019</text></svg></body></html>
